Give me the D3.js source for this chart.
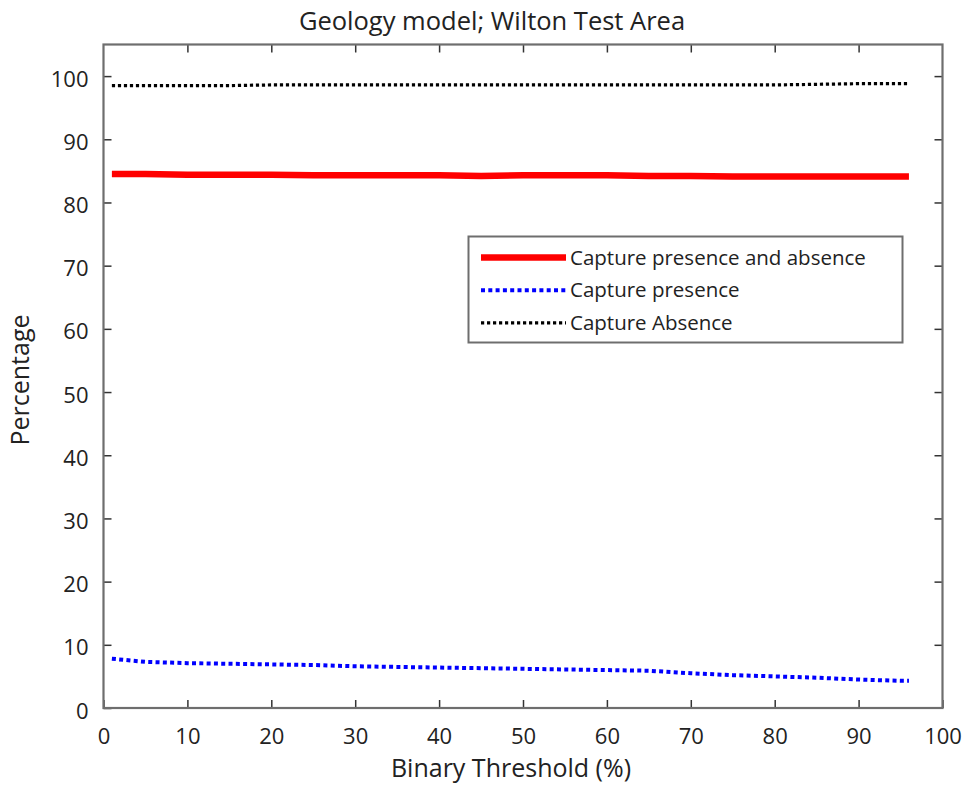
<!DOCTYPE html>
<html>
<head>
<meta charset="utf-8">
<script src="https://cdn.jsdelivr.net/npm/d3@7"></script>
<style>
  html, body { margin: 0; padding: 0; background: #fff; }
  svg text { font-family: "Open Sans", "DejaVu Sans", sans-serif; fill: #222; }
</style>
</head>
<body>
<svg id="chart" width="963" height="790"></svg>
<script>
// Binary threshold values (%) at which the model was evaluated
const thresholds = [1, 5, 10, 15, 20, 25, 30, 35, 40, 45, 50, 55, 60, 65, 70, 75, 80, 85, 90, 95, 96];

// Percent captured at each threshold
const presenceAndAbsence = [84.5, 84.5, 84.4, 84.4, 84.4, 84.3, 84.3, 84.3, 84.3, 84.2, 84.3, 84.3, 84.3, 84.2, 84.2, 84.1, 84.1, 84.1, 84.1, 84.1, 84.1];
const presence = [7.8, 7.3, 7.1, 7.0, 6.9, 6.8, 6.6, 6.5, 6.4, 6.3, 6.2, 6.1, 6.0, 5.9, 5.5, 5.2, 5.0, 4.8, 4.5, 4.3, 4.3];
const absence = [98.5, 98.5, 98.5, 98.5, 98.6, 98.6, 98.6, 98.6, 98.6, 98.6, 98.6, 98.6, 98.6, 98.6, 98.6, 98.6, 98.6, 98.7, 98.8, 98.8, 98.8];

const xTicks = [0, 10, 20, 30, 40, 50, 60, 70, 80, 90, 100];
const yTicks = [0, 10, 20, 30, 40, 50, 60, 70, 80, 90, 100];

const seriesNames = ["Capture presence and absence", "Capture presence", "Capture Absence"];

const svg = d3.select("#chart");
const plotL = 103.5, plotR = 942.5, plotT = 44.5, plotB = 708;

const x = d3.scaleLinear().domain([0, 100]).range([plotL, plotR]);
const y = d3.scaleLinear().domain([0, 105]).range([plotB, plotT]);

const series = [
  { name: seriesNames[0], values: presenceAndAbsence, color: "#ff0000", width: 6.5, dash: null },
  { name: seriesNames[1], values: presence, color: "#0000ff", width: 4, dash: "4,3.3" },
  { name: seriesNames[2], values: absence, color: "#000000", width: 3.2, dash: "3.2,2.8" }
];

// plot lines
const line = d3.line().x((d, i) => x(thresholds[i])).y(d => y(d));
series.forEach(s => {
  svg.append("path")
    .datum(s.values)
    .attr("d", line)
    .attr("fill", "none")
    .attr("stroke", s.color)
    .attr("stroke-width", s.width)
    .attr("stroke-dasharray", s.dash);
});

// axes with inward ticks on all four sides
const axisColor = "#6e6e6e";
function styleAxis(g) {
  g.select(".domain").remove();
  g.selectAll(".tick line").attr("stroke", "#333").attr("stroke-width", 1.5);
  g.selectAll(".tick text").style("font-size", "22px").attr("fill", "#222");
}
svg.append("g").attr("transform", `translate(0,${plotB})`)
  .call(d3.axisBottom(x).tickValues(xTicks).tickSizeInner(-8).tickSizeOuter(0).tickPadding(20))
  .call(styleAxis);
svg.append("g").attr("transform", `translate(0,${plotT})`)
  .call(d3.axisTop(x).tickValues(xTicks.slice(1, -1)).tickSizeInner(-8).tickSizeOuter(0).tickFormat(""))
  .call(styleAxis);
svg.append("g").attr("transform", `translate(${plotL},0)`)
  .call(d3.axisLeft(y).tickValues(yTicks).tickSizeInner(-8).tickSizeOuter(0).tickPadding(15))
  .call(styleAxis)
  .call(g => g.selectAll(".tick text").attr("y", 3));
svg.append("g").attr("transform", `translate(${plotR},0)`)
  .call(d3.axisRight(y).tickValues(yTicks.slice(1)).tickSizeInner(-8).tickSizeOuter(0).tickFormat(""))
  .call(styleAxis);

// frame
svg.append("rect")
  .attr("x", plotL).attr("y", plotT)
  .attr("width", plotR - plotL).attr("height", plotB - plotT)
  .attr("fill", "none").attr("stroke", axisColor).attr("stroke-width", 2.2);

// titles
svg.append("text").attr("x", 492).attr("y", 30)
  .attr("text-anchor", "middle").style("font-size", "25.5px")
  .text("Geology model; Wilton Test Area");
svg.append("text").attr("x", 511).attr("y", 777)
  .attr("text-anchor", "middle").style("font-size", "25px")
  .text("Binary Threshold (%)");
svg.append("text")
  .attr("transform", `translate(29,380) rotate(-90)`)
  .attr("text-anchor", "middle").style("font-size", "25px")
  .text("Percentage");

// legend
const legend = svg.append("g");
legend.append("rect")
  .attr("x", 468.5).attr("y", 236.5).attr("width", 434).attr("height", 106)
  .attr("fill", "#fff").attr("stroke", axisColor).attr("stroke-width", 2);
series.forEach((s, i) => {
  const ly = 257.5 + i * 32.7;
  legend.append("line")
    .attr("x1", 481).attr("x2", 566).attr("y1", ly).attr("y2", ly)
    .attr("stroke", s.color).attr("stroke-width", s.width)
    .attr("stroke-dasharray", s.dash);
  legend.append("text")
    .attr("x", 570).attr("y", ly).attr("dy", "0.35em")
    .style("font-size", "20.5px")
    .text(s.name);
});
</script>
</body>
</html>
